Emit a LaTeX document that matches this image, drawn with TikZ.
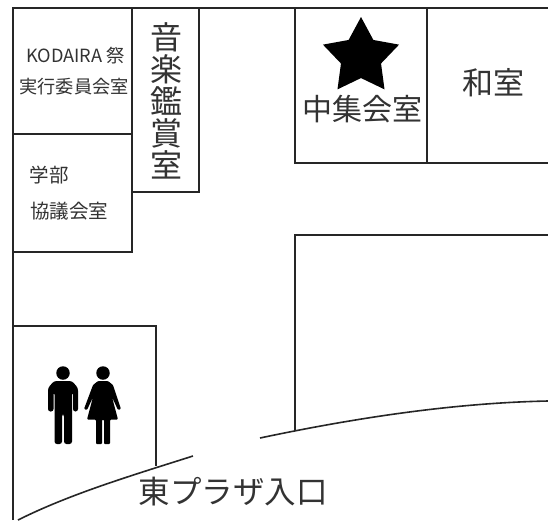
\documentclass[tikz,border=0pt]{standalone}
\usepackage{fontspec}
\setmainfont{Noto Sans CJK JP}
\usetikzlibrary{shapes.geometric}
\tikzset{
    wall/.style={line width=1.6pt, black!85},
    room/.style={inner sep=0pt, text=black!80, align=center},
    smallroom/.style={room, font=\fontsize{18.2}{19}\selectfont},
    bigroom/.style={room, font=\fontsize{30}{31}\selectfont},
    person/.style={fill=black, draw=none}
}
\begin{document}
\begin{tikzpicture}[x=1pt, y=-1pt]
    \useasboundingbox (0,0) rectangle (548,520);
    \fill[white] (0,0) rectangle (548,520);
    % outer walls
    \draw[wall] (13,520) -- (13,8) -- (548,8);
    % rooms on the left
    \draw[wall] (132,8) -- (132,252) -- (13,252);
    \draw[wall] (13,134) -- (132,134);
    \draw[wall] (132,192) -- (199,192) -- (199,8);
    % rooms on the right
    \draw[wall] (295,8) -- (295,163) -- (548,163);
    \draw[wall] (427,8) -- (427,163);
    \draw[wall] (548,235) -- (295,235) -- (295,430);
    % toilet
    \draw[wall] (13,326) -- (156,326) -- (156,466);
    % entrance
    \draw[wall] (18,520) .. controls (70,494) and (130,476) .. (193,456);
    \draw[wall] (260,438) .. controls (350,419) and (450,403) .. (548,401);
    % labels
    \node[smallroom] (kodaira) at (75.5,56) {KODAIRA 祭};
    \node[smallroom] (jikko) at (74,87) {実行委員会室};
    \node[smallroom, font=\fontsize{19.5}{20}\selectfont] (gakubu) at (49,175) {学部};
    \node[smallroom, font=\fontsize{19.5}{20}\selectfont] (kyogi) at (69,211) {協議会室};
    \node[bigroom, font=\fontsize{32}{32}\selectfont, text width=32pt] (ongaku) at (166,101) {音\\楽\\鑑\\賞\\室};
    \node[bigroom] (chushu) at (362,109) {中集会室};
    \node[bigroom, font=\fontsize{31}{32}\selectfont] (washitsu) at (493,83) {和室};
    \node[bigroom, font=\fontsize{31.5}{32}\selectfont] (plaza) at (233,492) {東プラザ入口};
    \node[star, star points=5, star point ratio=1.9, fill=black, inner sep=0pt, minimum size=80pt] (star) at (361,57) {};
    % man
    \node[circle, person, minimum size=13.5pt, inner sep=0pt] (manhead) at (63,373) {};
    \fill[person, rounded corners=2.5pt] (48,411.5) -- (48,388) -- (54,381) -- (72,381) -- (78,388) -- (78,411.5) -- (73,411.5) -- (73,392) -- (72,392) -- (72,444) -- (64,444) -- (64,414) -- (62,414) -- (62,444) -- (54.5,444) -- (54.5,392) -- (53.5,392) -- (53.5,411.5) -- cycle;
    % woman
    \node[circle, person, minimum size=13.5pt, inner sep=0pt] (womanhead) at (103,373) {};
    \fill[person, rounded corners=1pt] (84,409) -- (93,385) -- (98,381) -- (108,381) -- (113,385) -- (121,409) -- (118,410) -- (112,397) -- (118,419.5) -- (110,419.5) -- (110,444) -- (104,444) -- (104,419.5) -- (102,419.5) -- (102,444) -- (96,444) -- (96,419.5) -- (87,419.5) -- (93,397) -- (87,410) -- cycle;
\end{tikzpicture}
\end{document}
